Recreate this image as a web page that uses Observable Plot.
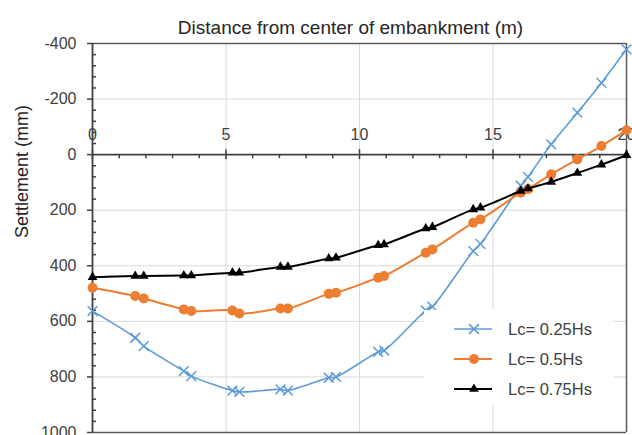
<!DOCTYPE html>
<html>
<head>
<meta charset="utf-8">
<script src="https://cdn.jsdelivr.net/npm/d3@7"></script>
<script src="https://cdn.jsdelivr.net/npm/@observablehq/plot@0.6"></script>
<style>
  html, body { margin: 0; padding: 0; background: #fff; }
  #chart { position: relative; width: 632px; height: 435px; overflow: hidden;
           font-family: "Liberation Sans", Arial, sans-serif; }
  #legend { position: absolute; left: 424px; top: 310px; }
</style>
</head>
<body>
<div id="chart"></div>
<script>
// Distance from the embankment centre (m), shared by all three series
const distance = [0, 1.6, 1.92, 3.42, 3.7, 5.24, 5.5, 7.04, 7.32, 8.85, 9.12,
                  10.7, 10.92, 12.48, 12.73, 14.26, 14.53, 16.04, 16.31,
                  17.18, 18.16, 19.06, 20];

// Settlement (mm); negative values are heave
const settleLc025 = [563, 659, 689, 779, 797, 849, 854, 845, 849, 803, 800,
                     710, 705, 561, 547, 347, 321, 112, 80, -37, -151, -258, -379];
const settleLc05  = [479, 509, 518, 557, 563, 561, 572, 554, 554, 501, 497,
                     443, 437, 353, 341, 245, 233, 137, 124, 71, 17, -31, -88];
const settleLc075 = [441, 437, 437, 435, 435, 425, 425, 404, 404, 374, 371,
                     326, 323, 266, 261, 197, 191, 131, 122, 98, 66, 36, 2];

const seriesNames = ["Lc= 0.25Hs", "Lc= 0.5Hs", "Lc= 0.75Hs"];
const seriesColors = ["#5B9BD5", "#ED7D31", "#000000"];

const xTicks = [0, 5, 10, 15, 20];
const yTicks = [-400, -200, 0, 200, 400, 600, 800, 1000];
const xGrid = [5, 10, 15];
const yGrid = [-200, 200, 400, 600, 800];

const xTitle = "Distance from center of embankment (m)";
const yTitle = "Settlement (mm)";

// minor tick positions between the labelled ones
const xMinor = d3.range(0, 21, 1).filter(v => !xTicks.includes(v));
const yMinor = d3.range(-400, 1001, 40).filter(v => v % 200 !== 0);

const toRows = ys => distance.map((x, i) => ({x, y: ys[i]}));
const s1 = toRows(settleLc025), s2 = toRows(settleLc05), s3 = toRows(settleLc075);

const axisColor = "#404040";
const frameColor = "#595959";
const gridColor = "#d9d9d9";

const plot = Plot.plot({
  width: 632,
  height: 435,
  marginLeft: 92,
  marginRight: 6,
  marginTop: 43,
  marginBottom: 3,
  style: {fontFamily: "'Liberation Sans', Arial, sans-serif", fontSize: "16px", background: "white", color: axisColor},
  x: {domain: [0, 20], axis: null},
  y: {domain: [-400, 1000], reverse: true},
  marks: [
    Plot.gridX(xGrid, {stroke: gridColor, strokeOpacity: 1, strokeWidth: 1}),
    Plot.gridY(yGrid, {stroke: gridColor, strokeOpacity: 1, strokeWidth: 1}),

    // title and y label
    Plot.text([xTitle], {frameAnchor: "top", dx: -9, dy: -23, fontSize: 19, fill: "#262626"}),
    Plot.text([yTitle], {frameAnchor: "left", dx: -70, rotate: -90, fontSize: 18, fill: "#262626"}),

    // x tick labels sit above the zero line
    Plot.text(xTicks, {x: d => d, y: 0, dy: -20, text: d => String(d), fontSize: 16, fill: axisColor}),

    // y axis labels and outward major ticks
    Plot.axisY(yTicks, {anchor: "left", tickSize: 5, tickPadding: 11, fontSize: 16,
                        color: axisColor, strokeWidth: 1.5, label: null, tickFormat: d => String(d)}),
    // inward minor ticks on the y axis
    Plot.ruleY(yMinor, {x1: 0, x2: 0, insetRight: -4, stroke: axisColor, strokeWidth: 1.5}),
    // x ticks on the zero line: minor below, major crossing
    Plot.ruleX(xMinor, {y1: 0, y2: 0, insetBottom: -4, stroke: axisColor, strokeWidth: 1.5}),
    Plot.ruleX(xTicks, {y1: 0, y2: 0, insetTop: -5, insetBottom: -5, stroke: axisColor, strokeWidth: 1.5}),

    // frame
    Plot.ruleY([-400, 1000], {stroke: frameColor, strokeWidth: 1.5}),
    Plot.ruleX([20], {stroke: frameColor, strokeWidth: 1.5}),
    // axes
    Plot.ruleX([0], {stroke: axisColor, strokeWidth: 1.8}),
    Plot.ruleY([0], {stroke: axisColor, strokeWidth: 1.8}),

    // series
    Plot.line(s1, {x: "x", y: "y", stroke: seriesColors[0], strokeWidth: 1.6, curve: "catmull-rom"}),
    Plot.dot(s1, {x: "x", y: "y", symbol: "times", r: 4.5, stroke: seriesColors[0], strokeWidth: 1.5}),
    Plot.line(s2, {x: "x", y: "y", stroke: seriesColors[1], strokeWidth: 2, curve: "catmull-rom"}),
    Plot.dot(s2, {x: "x", y: "y", r: 5, fill: seriesColors[1], stroke: "none"}),
    Plot.line(s3, {x: "x", y: "y", stroke: seriesColors[2], strokeWidth: 2, curve: "catmull-rom"}),
    Plot.dot(s3, {x: "x", y: "y", symbol: "triangle", r: 3.6, fill: seriesColors[2], stroke: "none"})
  ]
});

const chart = document.getElementById("chart");
chart.appendChild(plot);

// legend box inside the plot area
const legendW = 189, legendH = 95;
const legend = d3.create("svg")
  .attr("id", "legend")
  .attr("width", legendW)
  .attr("height", legendH)
  .style("background", "white")
  .style("font-family", "'Liberation Sans', Arial, sans-serif");

const symbols = [
  {type: d3.symbolTimes, size: Math.PI * 4.5 * 4.5, fill: "none", stroke: seriesColors[0], sw: 1.5},
  {type: d3.symbolCircle, size: Math.PI * 5 * 5, fill: seriesColors[1], stroke: "none", sw: 0},
  {type: d3.symbolTriangle, size: Math.PI * 3.6 * 3.6, fill: seriesColors[2], stroke: "none", sw: 0}
];

seriesNames.forEach((name, i) => {
  const g = legend.append("g").attr("transform", `translate(0,${19 + i * 30})`);
  g.append("line").attr("x1", 30).attr("x2", 68).attr("y1", 0).attr("y2", 0)
    .attr("stroke", seriesColors[i]).attr("stroke-width", i === 0 ? 1.6 : 2);
  g.append("path").attr("transform", "translate(50,0)")
    .attr("d", d3.symbol(symbols[i].type, symbols[i].size)())
    .attr("fill", symbols[i].fill).attr("stroke", symbols[i].stroke)
    .attr("stroke-width", symbols[i].sw);
  g.append("text").attr("x", 84).attr("y", 0).attr("dy", "0.35em")
    .attr("font-size", 16.5).attr("fill", axisColor).text(name);
});

chart.appendChild(legend.node());
</script>
</body>
</html>
